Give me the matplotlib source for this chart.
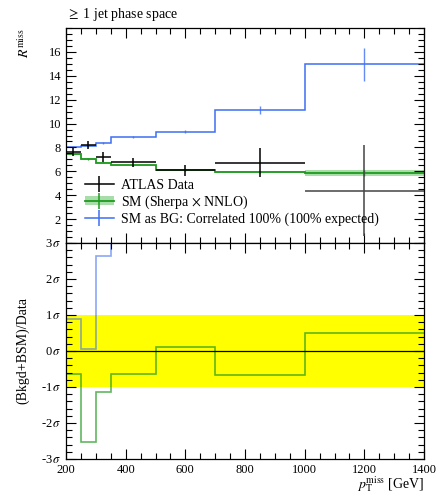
import matplotlib
matplotlib.use("Agg")
import matplotlib.pyplot as plt
import numpy as np
from matplotlib.lines import Line2D
from matplotlib.patches import Patch
from matplotlib.ticker import MultipleLocator, FuncFormatter

plt.rcParams['font.family'] = ['Liberation Serif', 'DejaVu Serif']
plt.rcParams['mathtext.fontset'] = 'stix'

# pT miss bins [GeV]
bins = [200, 250, 300, 350, 500, 700, 1000, 1400]

# ATLAS data
data_y = [7.65, 8.2, 7.2, 6.75, 6.1, 6.72, 4.38]
data_err = [0.35, 0.35, 0.4, 0.35, 0.45, 1.2, 3.8]

# SM (Sherpa x NNLO)
sm_y = [7.45, 7.05, 6.72, 6.5, 6.12, 5.92, 5.83]
sm_err = [0.06, 0.06, 0.06, 0.06, 0.06, 0.08, 0.25]

# SM as BG, correlated 100%
bg_y = [8.06, 8.14, 8.35, 8.85, 9.32, 11.15, 14.95]
bg_err = [0.1, 0.1, 0.1, 0.1, 0.1, 0.35, 1.4]

# deviations in sigma (lower panel)
dev_sm = [-0.63, -2.52, -1.13, -0.65, 0.10, -0.68, 0.51]
dev_bg = [0.88, 0.06, 2.63, 5.5, 6.5, 4.0, 3.5]

black = 'k'
green = '#1f9a1f'
lgreen = '#a8dca8'
blue = '#3f6ff2'

edges = np.array(bins)
centers = 0.5 * (edges[:-1] + edges[1:])
halfw = 0.5 * (edges[1:] - edges[:-1])

fig = plt.figure(figsize=(4.36, 4.93), dpi=100)
ax1 = fig.add_axes([0.1514, 0.5071, 0.8211, 0.4361])
ax2 = fig.add_axes([0.1514, 0.0690, 0.8211, 0.4381])

# ---- top panel
ax1.stairs(np.array(sm_y) + sm_err, edges, baseline=np.array(sm_y) - sm_err,
           fill=True, color=lgreen, lw=0)
ax1.stairs(sm_y, edges, baseline=None, color=green, lw=1.3)
ax1.errorbar(centers, sm_y, yerr=sm_err, fmt='none', ecolor=green, lw=1)
ax1.stairs(bg_y, edges, baseline=None, color=blue, lw=1.1)
ax1.errorbar(centers, bg_y, yerr=bg_err, fmt='none', ecolor=blue, lw=1, alpha=0.8)
dcol = ['k', 'k', 'k', 'k', 'k', 'k', '#444444']
for x, y, xe, ye, c in zip(centers, data_y, halfw, data_err, dcol):
    ax1.errorbar(x, y, xerr=xe, yerr=ye, fmt='none', ecolor=c, lw=1.1)

ax1.set_xlim(200, 1400)
ax1.set_ylim(0, 18)
ax1.xaxis.set_major_locator(MultipleLocator(200))
ax1.xaxis.set_minor_locator(MultipleLocator(50))
ax1.yaxis.set_major_locator(MultipleLocator(2))
ax1.yaxis.set_minor_locator(MultipleLocator(0.5))
ax1.set_yticks([2, 4, 6, 8, 10, 12, 14, 16])
ax1.tick_params(labelbottom=False)
ax1.set_ylabel(r'$R^{\mathrm{miss}}$', loc='top', fontsize=10, labelpad=12)
ax1.text(0.0, 1.025, r'$\geq$ 1 jet phase space', transform=ax1.transAxes,
         fontsize=10, ha='left', va='bottom')

h_data = Line2D([], [], color='k', marker='|', markersize=11, lw=1.1, mew=1.1)
h_sm = (Patch(facecolor=lgreen, edgecolor='none'),
        Line2D([], [], color=green, marker='|', markersize=11, lw=1.3, mew=1.1))
h_bg = Line2D([], [], color=blue, marker='|', markersize=11, lw=1.1, mew=1.1)
ax1.legend([h_data, h_sm, h_bg],
           ['ATLAS Data', r'SM (Sherpa $\times$ NNLO)',
            'SM as BG: Correlated 100% (100% expected)'],
           loc='lower left', bbox_to_anchor=(0.025, 0.035), frameon=False,
           fontsize=10, handlelength=2.1, handletextpad=0.55,
           labelspacing=0.12, borderaxespad=0.3)

# ---- bottom panel
ax2.axhspan(-1, 1, color='#ffff00', lw=0)
ax2.axhline(0, color='k', lw=0.9)
ax2.stairs(dev_bg, edges, baseline=None, color=blue, lw=1.2, alpha=0.6)
ax2.stairs(dev_sm, edges, baseline=None, color=green, lw=1.2, alpha=0.7)

ax2.set_xlim(200, 1400)
ax2.set_ylim(-3, 3)
ax2.xaxis.set_major_locator(MultipleLocator(200))
ax2.xaxis.set_minor_locator(MultipleLocator(50))
ax2.yaxis.set_major_locator(MultipleLocator(1))
ax2.yaxis.set_minor_locator(MultipleLocator(0.2))
ax2.yaxis.set_major_formatter(FuncFormatter(lambda v, p: r'%d$\,\sigma$' % round(v)))
ax2.set_ylabel('(Bkgd+BSM)/Data', fontsize=10, labelpad=8)
ax2.set_xlabel(r'$p_{\mathrm{T}}^{\mathrm{miss}}$ [GeV]', loc='right', fontsize=10, labelpad=-1)

for ax in (ax1, ax2):
    ax.tick_params(which='both', direction='in', top=True, right=True, labelsize=9)
    ax.tick_params(which='major', length=7, width=0.8)
    ax.tick_params(which='minor', length=4, width=0.8)
    for s in ax.spines.values():
        s.set_linewidth(0.9)

fig.savefig('out.png', dpi=100)
